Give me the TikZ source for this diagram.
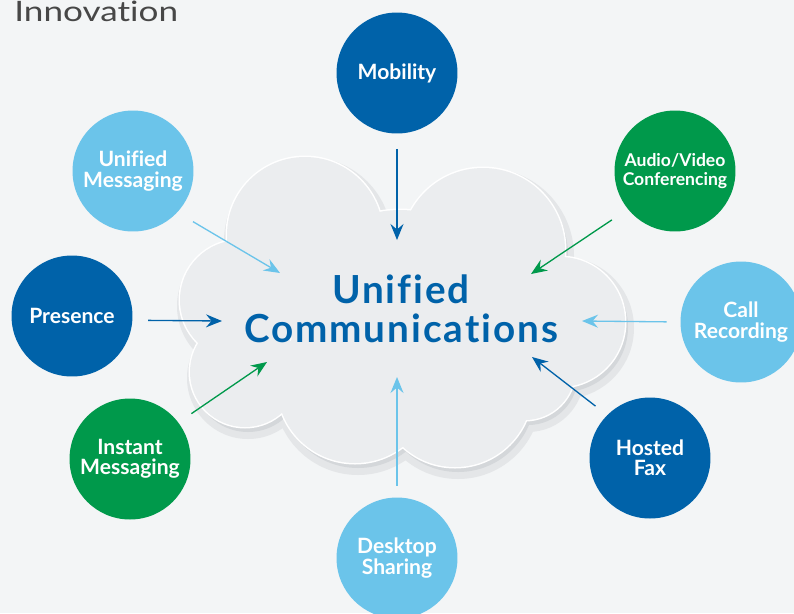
\documentclass[tikz,border=0pt]{standalone}
\usepackage{fontspec}
\setmainfont{Lato}[Ligatures=NoCommon]
\newfontfamily\innofont{Lato}[FakeStretch=1.25,Ligatures=NoCommon]
\newfontfamily\ucfont{Lato}[LetterSpace=5,Ligatures=NoCommon]
\usetikzlibrary{arrows.meta}

\definecolor{ucdark}{HTML}{0062A9}
\definecolor{uclight}{HTML}{6BC4EA}
\definecolor{ucgreen}{HTML}{00994B}
\definecolor{paper}{HTML}{F3F5F6}
\definecolor{cloudfill}{HTML}{EBEDEF}
\definecolor{cloudsoft}{HTML}{E4E6E8}
\definecolor{cloudshade}{HTML}{D4D7DA}

\tikzset{
  topic/.style={circle, fill=#1, text=white, minimum size=2.42cm, inner sep=0pt,
    align=center, font=\bfseries\fontsize{12}{11.5}\selectfont},
  feed/.style={draw=#1, line width=0.75pt,
    -{Stealth[length=3.2mm,width=2.6mm,inset=1.1mm]}},
}

\begin{document}
\begin{tikzpicture}[x=0.02cm,y=-0.02cm]
    \fill[paper] (0,0) rectangle (794,613);
    \useasboundingbox (0,0) rectangle (794,613);

    \node[anchor=base west, inner sep=0pt, text=black!72,
      font=\innofont\fontsize{16}{16}\selectfont] (inno) at (14,21) {Innovation};

    % cloud: soft shadow, rim, body
    \foreach \cx/\cy/\cr in {305/235/78, 483/250/82, 240/300/60, 245/372/55, 355/385/78,
        455/390/77, 525/370/50, 560/322/65, 400/320/110}
      \fill[cloudsoft] (\cx+3,\cy+6) circle[radius=\cr*0.02cm+0.12cm];
    \foreach \cx/\cy/\cr in {305/235/78, 483/250/82, 240/300/60, 245/372/55, 355/385/78,
        455/390/77, 525/370/50, 560/322/65, 400/320/110}
      \fill[cloudshade] (\cx+3,\cy+5) circle[radius=\cr*0.02cm];
    \foreach \cx/\cy/\cr in {305/235/78, 483/250/82, 240/300/60, 245/372/55, 355/385/78,
        455/390/77, 525/370/50, 560/322/65, 400/320/110}
      \fill[white] (\cx,\cy) circle[radius=\cr*0.02cm+0.03cm];
    \foreach \cx/\cy/\cr in {305/235/78, 483/250/82, 240/300/60, 245/372/55, 355/385/78,
        455/390/77, 525/370/50, 560/322/65, 400/320/110}
      \fill[cloudfill] (\cx,\cy) circle[radius=\cr*0.02cm];

    \node[text=ucdark, align=center, font=\ucfont\bfseries\fontsize{22}{22}\selectfont]
      (uc) at (401,309) {Unified\\Communications};

    \node[topic=ucdark] (mob) at (397,73) {Mobility};
    \node[topic=uclight] (um) at (133,171) {Unified\\Messaging};
    \node[topic=ucdark] (pres) at (72,316) {Presence};
    \node[topic=ucgreen] (im) at (130,459) {Instant\\Messaging};
    \node[topic=uclight] (ds) at (397,558) {Desktop\\Sharing};
    \node[topic=ucdark] (fax) at (650,458) {Hosted\\Fax};
    \node[topic=uclight] (rec) at (741,322) {Call\\Recording};
    \node[topic=ucgreen, font=\bfseries\fontsize{10}{10.8}\selectfont]
      (av) at (675,171) {Audio/Video\\Conferencing};

    \coordinate (mobT) at (397,240);
    \coordinate (umT) at (280,273);
    \coordinate (presT) at (222,321);
    \coordinate (imT) at (267,362);
    \coordinate (dsT) at (397,377);
    \coordinate (faxT) at (532,357);
    \coordinate (recT) at (582,321);
    \coordinate (avT) at (531,274);

    \draw[feed=ucdark, shorten <=0.3cm] (mob.south) -- (mobT);
    \draw[feed=uclight, shorten <=0.36cm] (um.-43) -- (umT);
    \draw[feed=ucdark, shorten <=0.31cm] (pres.-4) -- (presT);
    \draw[feed=ucgreen, shorten <=0.31cm] (im.37) -- (imT);
    \draw[feed=uclight, shorten <=0.23cm] (ds.north) -- (dsT);
    \draw[feed=ucdark, shorten <=0.29cm] (fax.135) -- (faxT);
    \draw[feed=uclight, shorten <=0.27cm] (rec.west) -- (recT);
    \draw[feed=ucgreen, shorten <=0.38cm] (av.219) -- (avT);
\end{tikzpicture}
\end{document}
